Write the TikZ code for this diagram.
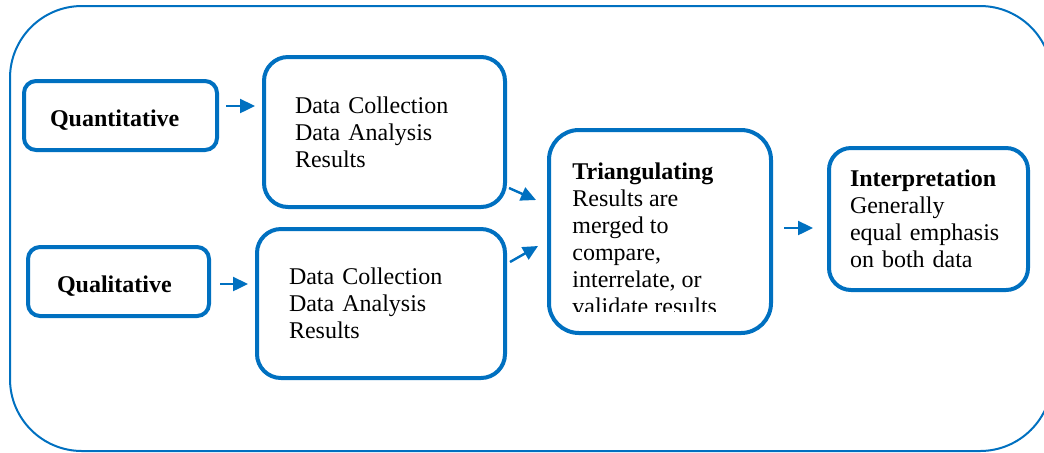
\documentclass[tikz,border=0pt]{standalone}
\usepackage{fontspec}
\setmainfont{Liberation Serif}
\usetikzlibrary{arrows.meta}

\definecolor{boxblue}{HTML}{0070C0}

\tikzset{
  frame/.style={draw=boxblue, line width=1pt, rounded corners=36pt},
  kind/.style={draw=boxblue, line width=2pt, rounded corners=6pt, font=\fontsize{12}{13.5}\selectfont\bfseries, align=left, minimum height=34.5pt},
  stage/.style={draw=boxblue, line width=2pt, rounded corners=12pt, align=left},
  link/.style={draw=boxblue, line width=1.2pt, -{Triangle[length=7.5pt,width=7pt]}},
}
\newcommand{\lowered}[1]{\raisebox{-2.5pt}[\height][\depth]{#1}}

\begin{document}
\begin{tikzpicture}[x=0.5pt, y=-0.5pt, font=\fontsize{12}{13.5}\selectfont]

  \useasboundingbox (0,0) rectangle (1044,452);
  \draw [frame] (10,6) rectangle (1052,451);

  \node (quan) [kind, text width=70.5pt, inner xsep=13pt] at (120.5,115.5) {\lowered{Quantitative}};
  \node (qual) [kind, text width=61.5pt, inner xsep=14.5pt] at (118.5,281.5) {\lowered{Qualitative}};

  \node (col1) [stage, text width=89.5pt, inner xsep=15.5pt, minimum height=75pt] at (384.5,132)
    {Data Collection\\ Data Analysis\\ Results};
  \node (col2) [stage, text width=92pt, inner xsep=16pt, minimum height=74.5pt] at (381,303.5)
    {Data Collection\\ Data Analysis\\ Results};

  \node (tri) [stage, rounded corners=15pt, minimum width=111pt, minimum height=101.5pt] at (660,231.5) {};
  \begin{scope}
    \clip (552,140) rectangle (768,311);
    \node (tritext) [anchor=north west, align=left, inner sep=0pt] at (572,162)
      {\textbf{Triangulating}\\ Results are\\ merged to\\ compare,\\ interrelate, or\\ validate results};
  \end{scope}

  \node (interp) [stage, rounded corners=11pt, text width=78.5pt, inner xsep=10.5pt, minimum height=71pt] at (928.5,219)
    {\textbf{Interpretation}\\ Generally\\ equal emphasis\\ on both data};

  \draw [link] ([xshift=3.5pt,yshift=4.75pt]quan.east) -- ([xshift=-3.5pt,yshift=13pt]col1.west);
  \draw [link] ([xshift=4.5pt,yshift=-1.25pt]qual.east) -- ([xshift=-3.5pt,yshift=9.75pt]col2.west);
  \draw [link] ([xshift=1pt,yshift=-28pt]col1.east) -- ([xshift=-5.5pt,yshift=15.75pt]tri.west);
  \draw [link] ([xshift=1.5pt,yshift=20.75pt]col2.east) -- ([xshift=-4.5pt,yshift=-7.25pt]tri.west);
  \draw [link] ([xshift=5.5pt,yshift=1.75pt]tri.east) -- ([xshift=-7pt,yshift=-4.5pt]interp.west);

\end{tikzpicture}
\end{document}
